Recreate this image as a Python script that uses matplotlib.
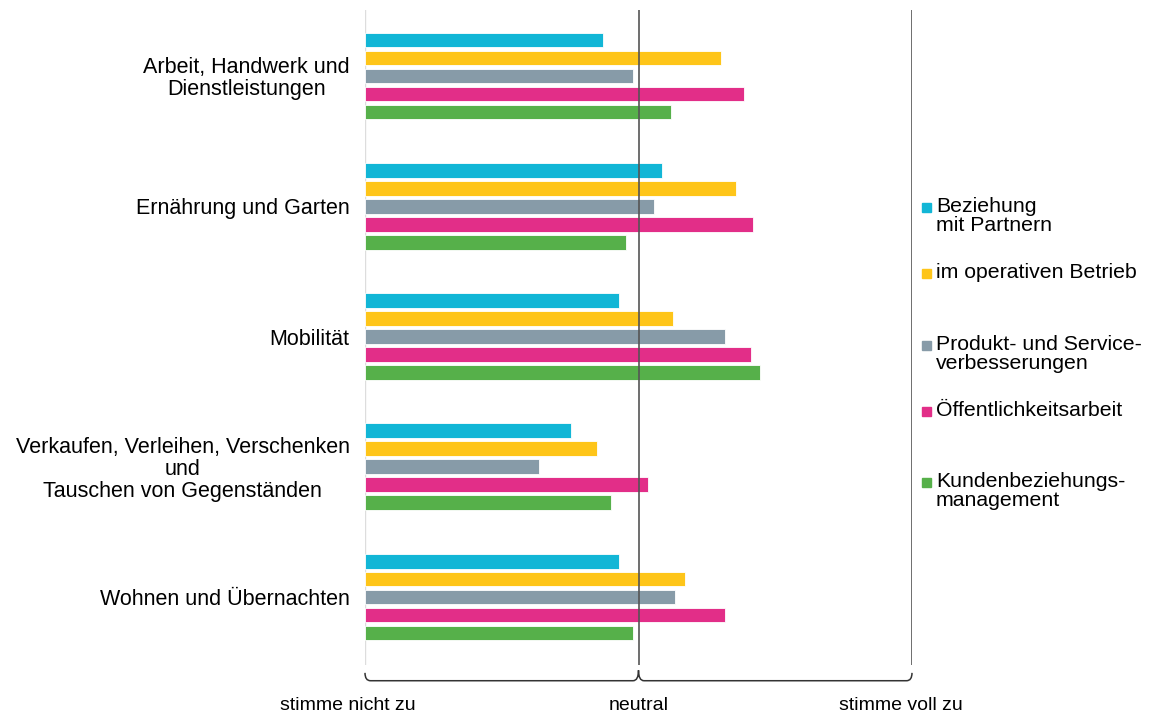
import matplotlib.pyplot as plt
from matplotlib.patches import Rectangle, PathPatch
from matplotlib.path import Path
import matplotlib.transforms as mtransforms
import numpy as np

plt.rcParams['font.family'] = ['Liberation Sans', 'DejaVu Sans']

# Bereiche (von oben nach unten)
categories = [
    "Arbeit, Handwerk und\nDienstleistungen",
    "Ernährung und Garten",
    "Mobilität",
    "Verkaufen, Verleihen, Verschenken\nund\nTauschen von Gegenständen",
    "Wohnen und Übernachten",
]
series = [
    "Beziehung\nmit Partnern",
    "im operativen Betrieb",
    "Produkt- und Service-\nverbesserungen",
    "Öffentlichkeitsarbeit",
    "Kundenbeziehungs-\nmanagement",
]
colors = ["#12B6D6", "#FEC519", "#879BA8", "#E22E88", "#56B04A"]

# Mittelwerte auf Skala 1 (stimme nicht zu) .. 5 (stimme voll zu)
partner   = [2.74, 3.17, 2.86, 2.51, 2.86]
betrieb   = [3.60, 3.71, 3.25, 2.70, 3.34]
produkt   = [2.96, 3.11, 3.63, 2.27, 3.27]
oeffentl  = [3.77, 3.84, 3.82, 3.07, 3.63]
kunden    = [3.24, 2.91, 3.89, 2.80, 2.96]
values = [partner, betrieb, produkt, oeffentl, kunden]

scale_labels = ["stimme nicht zu", "neutral", "stimme voll zu"]

fig = plt.figure(figsize=(11.51, 7.15), dpi=100)
ax = fig.add_axes([365 / 1151, 50 / 715, 547 / 1151, 655 / 715])

group_gap = 7.25
bar_h = 0.82
centers = np.arange(len(categories)) * group_gap
for j, (vals, col) in enumerate(zip(values, colors)):
    y = centers + (j - 2)
    ax.barh(y, np.array(vals) - 1, left=1, height=bar_h, color=col,
            edgecolor="white", linewidth=0.6, zorder=3)

ax.set_xlim(1, 5)
ax.set_ylim(centers[-1] + 3.78, centers[0] - 3.67)
for s in ax.spines.values():
    s.set_visible(False)
ax.set_xticks([])
ax.set_yticks(centers)
ax.set_yticklabels(categories, fontsize=15.5, multialignment="center",
                   linespacing=1.05)
ax.tick_params(axis="y", length=0, pad=11)

ax.axvline(1, color="#dddddd", lw=1, zorder=1)
ax.axvline(3, color="#555555", lw=1.2, zorder=4)
ax.axvline(5, color="#555555", lw=1.2, zorder=4)

# geschweifte Klammer unter der Skala
trans = mtransforms.blended_transform_factory(ax.transData, ax.transAxes)
y0, y1, ym = -0.012, -0.024, -0.008
verts = [(1, y0), (1, y1), (1.04, y1),
         (2.96, y1), (3, y1), (3, ym),
         (3, y1), (3.04, y1),
         (4.96, y1), (5, y1), (5, y0)]
codes = [Path.MOVETO, Path.CURVE3, Path.CURVE3,
         Path.LINETO, Path.CURVE3, Path.CURVE3,
         Path.CURVE3, Path.CURVE3,
         Path.LINETO, Path.CURVE3, Path.CURVE3]
brace = PathPatch(Path(verts, codes), transform=trans, fill=False,
                  edgecolor="#333333", lw=1.1, clip_on=False)
ax.add_patch(brace)

for x, lab in zip([0.875, 3.0, 4.92], scale_labels):
    ax.text(x, -0.062, lab, transform=trans, ha="center", va="center",
            fontsize=14)

# Legende
legend_tops = [207, 273, 345, 411, 482]
for top, lab, col in zip(legend_tops, series, colors):
    fig.add_artist(Rectangle((922 / 1151, 1 - (top + 5) / 715), 9 / 1151, 9 / 715,
                             transform=fig.transFigure, color=col))
    fig.text(936 / 1151, 1 - (top - 10) / 715, lab, ha="left", va="top",
             fontsize=15.3, linespacing=1.0)

fig.savefig("out.png", dpi=100)
